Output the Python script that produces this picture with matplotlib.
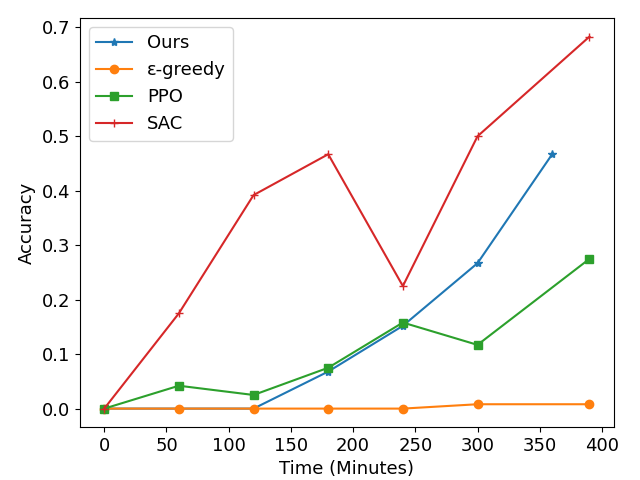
import matplotlib
matplotlib.use("Agg")
import matplotlib.pyplot as plt

# time points (minutes)
ours_t = [0, 60, 120, 180, 240, 300, 360]
ours_acc = [0.0, 0.0, 0.0, 0.068, 0.152, 0.267, 0.467]

greedy_t = [0, 60, 120, 180, 240, 300, 390]
greedy_acc = [0.0, 0.0, 0.0, 0.0, 0.0, 0.008, 0.008]

ppo_t = [0, 60, 120, 180, 240, 300, 390]
ppo_acc = [0.0, 0.042, 0.025, 0.075, 0.158, 0.117, 0.275]

sac_t = [0, 60, 120, 180, 240, 300, 390]
sac_acc = [0.0, 0.175, 0.392, 0.467, 0.225, 0.5, 0.683]

plt.rcParams["font.size"] = 13

fig = plt.figure(figsize=(6.4, 4.8), dpi=100)
plt.plot(ours_t, ours_acc, marker="*", label="Ours")
plt.plot(greedy_t, greedy_acc, marker="o", label="ε-greedy")
plt.plot(ppo_t, ppo_acc, marker="s", label="PPO")
plt.plot(sac_t, sac_acc, marker="+", label="SAC")
plt.xlabel("Time (Minutes)")
plt.ylabel("Accuracy")
plt.legend(loc="upper left")
plt.subplots_adjust(left=0.125, right=0.959, top=0.9625, bottom=0.11)
plt.savefig("out.png", dpi=100)
